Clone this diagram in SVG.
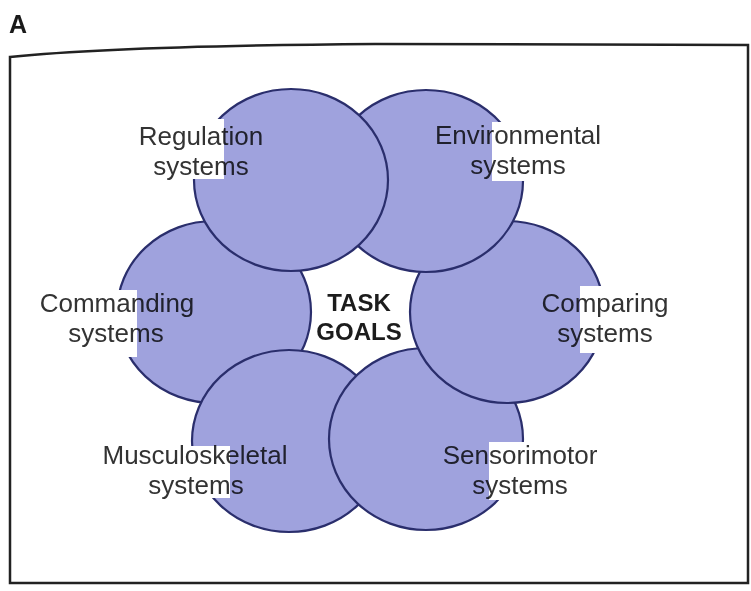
<svg xmlns="http://www.w3.org/2000/svg" width="751" height="591" viewBox="0 0 751 591">
  <style>
    .sys { fill: #9fa2dd; stroke: #2a2e6c; stroke-width: 2.2; }
    .knock { fill: #ffffff; }
    .lbl { font-family: "Liberation Sans", Arial, sans-serif; font-size: 26px; fill: #333333; text-anchor: middle; mix-blend-mode: multiply; }
    .goal { font-family: "Liberation Sans", Arial, sans-serif; font-size: 24px; font-weight: bold; fill: #1c1c1c; text-anchor: middle; }
    .tag { font-family: "Liberation Sans", Arial, sans-serif; font-size: 25px; font-weight: bold; fill: #1a1a1a; }
  </style>

  <rect width="751" height="591" fill="#ffffff"/>

  <!-- panel letter -->
  <text class="tag" x="9" y="33">A</text>

  <!-- panel frame -->
  <path d="M10,57 Q120,46 375,44 L748,45 L748,583 L10,583 Z" fill="none" stroke="#222222" stroke-width="2.5"/>

  <!-- system circles, stacked so each overlaps its neighbour -->
  <g id="commanding-circle"><ellipse class="sys" cx="214" cy="312" rx="97" ry="91"/></g>
  <g id="musculoskeletal-circle"><ellipse class="sys" cx="289" cy="441" rx="97" ry="91"/></g>
  <g id="sensorimotor-circle"><ellipse class="sys" cx="426" cy="439" rx="97" ry="91"/></g>
  <g id="comparing-circle"><ellipse class="sys" cx="507" cy="312" rx="97" ry="91"/></g>
  <g id="environmental-circle"><ellipse class="sys" cx="426" cy="181" rx="97" ry="91"/></g>
  <g id="regulation-circle"><ellipse class="sys" cx="291" cy="180" rx="97" ry="91"/></g>

  <!-- white label panels cutting into the circles -->
  <g id="label-panels">
    <rect class="knock" x="120" y="119" width="104" height="60"/>
    <rect class="knock" x="492" y="122" width="128" height="59"/>
    <rect class="knock" x="30" y="290" width="107" height="67"/>
    <rect class="knock" x="580" y="286" width="100" height="67"/>
    <rect class="knock" x="90" y="446" width="140" height="52"/>
    <rect class="knock" x="489" y="442" width="131" height="58"/>
  </g>

  <g id="regulation">
    <text class="lbl" x="201" y="145">Regulation</text>
    <text class="lbl" x="201" y="175">systems</text>
  </g>
  <g id="environmental">
    <text class="lbl" x="518" y="144">Environmental</text>
    <text class="lbl" x="518" y="174">systems</text>
  </g>
  <g id="commanding">
    <text class="lbl" x="117" y="312">Commanding</text>
    <text class="lbl" x="116" y="342">systems</text>
  </g>
  <g id="comparing">
    <text class="lbl" x="605" y="312">Comparing</text>
    <text class="lbl" x="605" y="342">systems</text>
  </g>
  <g id="musculoskeletal">
    <text class="lbl" x="195" y="464">Musculoskeletal</text>
    <text class="lbl" x="196" y="494">systems</text>
  </g>
  <g id="sensorimotor">
    <text class="lbl" x="520" y="464">Sensorimotor</text>
    <text class="lbl" x="520" y="494">systems</text>
  </g>

  <g id="task-goals">
    <text class="goal" x="359" y="311">TASK</text>
    <text class="goal" x="359" y="340">GOALS</text>
  </g>

  <g id="connectors"/>
</svg>
